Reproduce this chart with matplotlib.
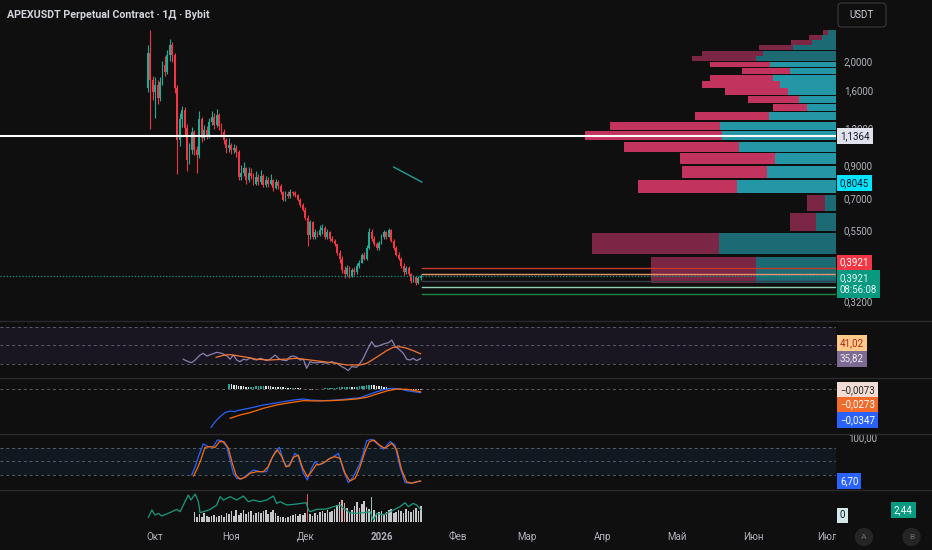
import numpy as np
import matplotlib
matplotlib.use("Agg")
import matplotlib.pyplot as plt
from matplotlib import transforms
from matplotlib.patches import Ellipse, FancyBboxPatch

plt.rcParams['font.family'] = ['Roboto', 'DejaVu Sans']

# ---- price data (daily candles, day 0 = 28 Sep 2025) ----
opens = [1.64, 2.14, 1.74, 1.59, 1.68, 1.52, 1.72, 1.96, 1.85, 2.11,
         2.28, 2.11, 1.64, 1.10, 1.29, 1.39, 1.21, 0.95, 1.02, 1.17,
         1.02, 0.98, 1.29, 1.12, 1.19, 1.14, 1.27, 1.31, 1.24, 1.33,
         1.23, 1.17, 1.10, 1.04, 1.06, 1.02, 1.04, 1.01, 0.83, 0.86,
         0.89, 0.81, 0.86, 0.84, 0.79, 0.83, 0.80, 0.84, 0.78, 0.81,
         0.79, 0.81, 0.765, 0.80, 0.776, 0.742, 0.699, 0.731, 0.720, 0.742,
         0.737, 0.726, 0.699, 0.673, 0.648, 0.609, 0.533, 0.590, 0.528, 0.545,
         0.533, 0.553, 0.562, 0.528, 0.545, 0.520, 0.512, 0.497, 0.467, 0.446,
         0.408, 0.396, 0.414, 0.392, 0.408, 0.402, 0.420, 0.433, 0.457, 0.446,
         0.482, 0.545, 0.520, 0.497, 0.482, 0.504, 0.528, 0.545, 0.528, 0.553,
         0.512, 0.482, 0.460, 0.446, 0.420, 0.402, 0.414, 0.396, 0.377, 0.389,
         0.371, 0.385]
closes = [2.14, 1.74, 1.59, 1.68, 1.52, 1.72, 1.96, 1.85, 2.11, 2.28,
          2.11, 1.64, 1.10, 1.29, 1.39, 1.21, 0.95, 1.02, 1.17, 1.02,
          0.98, 1.29, 1.12, 1.19, 1.14, 1.27, 1.31, 1.24, 1.33, 1.23,
          1.17, 1.10, 1.04, 1.06, 1.02, 1.04, 1.01, 0.83, 0.86, 0.89,
          0.81, 0.86, 0.84, 0.79, 0.83, 0.80, 0.84, 0.78, 0.81, 0.79,
          0.81, 0.765, 0.80, 0.776, 0.742, 0.699, 0.731, 0.720, 0.742, 0.737,
          0.726, 0.699, 0.673, 0.648, 0.609, 0.533, 0.590, 0.528, 0.545, 0.533,
          0.553, 0.562, 0.528, 0.545, 0.520, 0.512, 0.497, 0.467, 0.446, 0.408,
          0.396, 0.414, 0.392, 0.408, 0.402, 0.420, 0.433, 0.457, 0.446, 0.482,
          0.545, 0.520, 0.497, 0.482, 0.504, 0.528, 0.545, 0.528, 0.553, 0.512,
          0.482, 0.460, 0.446, 0.420, 0.402, 0.414, 0.396, 0.377, 0.389, 0.371,
          0.385, 0.3921]
highs = [2.28, 2.55, 1.80, 1.78, 1.74, 1.78, 2.02, 2.10, 2.20, 2.38,
         2.33, 2.14, 1.68, 1.36, 1.43, 1.42, 1.25, 1.08, 1.22, 1.19,
         1.05, 1.38, 1.31, 1.24, 1.23, 1.30, 1.38, 1.36, 1.40, 1.36,
         1.26, 1.20, 1.12, 1.12, 1.08, 1.07, 1.06, 1.02, 0.91, 0.93,
         0.90, 0.90, 0.89, 0.86, 0.87, 0.85, 0.88, 0.85, 0.84, 0.83,
         0.85, 0.82, 0.82, 0.81, 0.79, 0.75, 0.75, 0.75, 0.76, 0.75,
         0.745, 0.73, 0.71, 0.68, 0.66, 0.62, 0.60, 0.595, 0.56, 0.55,
         0.575, 0.58, 0.57, 0.56, 0.55, 0.53, 0.52, 0.50, 0.475, 0.455,
         0.42, 0.425, 0.42, 0.415, 0.418, 0.43, 0.44, 0.465, 0.47, 0.495,
         0.565, 0.56, 0.53, 0.505, 0.51, 0.54, 0.555, 0.55, 0.565, 0.56,
         0.52, 0.49, 0.47, 0.45, 0.43, 0.42, 0.42, 0.40, 0.395, 0.392,
         0.39, 0.398]
lows = [1.59, 1.20, 1.50, 1.30, 1.45, 1.48, 1.68, 1.80, 1.82, 2.02,
        2.00, 1.58, 0.85, 1.05, 1.22, 1.15, 0.87, 0.92, 0.99, 0.98,
        0.86, 0.96, 1.09, 1.10, 1.11, 1.12, 1.24, 1.20, 1.22, 1.19,
        1.14, 1.07, 1.00, 1.01, 0.99, 1.00, 0.97, 0.81, 0.81, 0.84,
        0.79, 0.80, 0.82, 0.78, 0.78, 0.78, 0.79, 0.77, 0.77, 0.77,
        0.78, 0.75, 0.76, 0.76, 0.73, 0.69, 0.69, 0.71, 0.71, 0.72,
        0.715, 0.69, 0.66, 0.64, 0.60, 0.49, 0.52, 0.52, 0.52, 0.525,
        0.53, 0.54, 0.52, 0.52, 0.51, 0.505, 0.49, 0.46, 0.43, 0.40,
        0.385, 0.39, 0.384, 0.388, 0.395, 0.398, 0.415, 0.43, 0.44, 0.44,
        0.48, 0.51, 0.49, 0.475, 0.478, 0.50, 0.52, 0.52, 0.525, 0.505,
        0.475, 0.455, 0.44, 0.415, 0.395, 0.398, 0.39, 0.37, 0.372, 0.365,
        0.368, 0.38]

# volume profile rows, top to bottom
vp_up = [8, 14, 24, 43, 72, 79, 66, 46, 63, 56, 48, 37, 29, 67, 115, 113,
         96, 61, 69, 98, 11, 20, 116, 79]
vp_down = [5, 13, 21, 33, 61, 64, 59, 47, 62, 77, 62, 50, 34, 73, 109, 136,
           114, 94, 84, 99, 18, 26, 126, 105]
value_area = (0.72, 1.99)

hline_price = 1.1364
last_price = 0.3921
alert_price = 0.8045
levels = [0.414, 0.3955, 0.3758, 0.360, 0.3396]
level_colors = ['#c23b2b', '#e8946a', '#3a3d48', '#8fd1b0', '#1f8a3f']
trend_x = [100.0, 111.4]
trend_y = [0.897, 0.800]

# RSI
rsi_day = [14.5, 16.5, 17.9, 19.3, 21.3, 22.6, 24.0, 26.0, 28.1, 30.1, 32.1, 33.5,
           34.8, 36.2, 37.5, 38.9, 40.3, 41.6, 42.9, 44.3, 45.7, 47.0, 48.4, 49.7,
           51.8, 53.1, 54.5, 56.5, 57.9, 59.2, 60.6, 61.9, 63.3, 64.6, 66.0, 67.3,
           68.7, 70.7, 72.8, 74.8, 76.8, 78.9, 80.2, 81.5, 82.9, 84.9, 86.3, 87.6,
           89.2, 91.0, 92.4, 93.7, 95.8, 97.8, 99.2, 100.5, 102.5, 103.9, 105.3,
           106.6, 107.9, 109.3, 110.9]
rsi_val = [35.1, 32.5, 31.4, 34.3, 39.7, 41.5, 38.6, 40.5, 42.6, 41.5, 39.0, 35.1,
           39.7, 34.3, 32.5, 35.1, 34.3, 36.8, 35.1, 34.3, 36.1, 35.1, 33.6, 35.1,
           39.7, 36.1, 34.3, 33.6, 37.9, 38.6, 37.2, 34.3, 35.1, 25.3, 32.5, 31.4,
           31.4, 31.8, 30.7, 32.5, 30.7, 27.1, 25.3, 22.8, 27.1, 26.4, 30.7, 36.1,
           45.1, 54.1, 48.7, 49.4, 51.6, 53.0, 55.9, 49.4, 45.1, 41.5, 35.1,
           34.3, 36.1, 33.6, 35.82]
rsi_ma_day = [27.8, 30.8, 33.5, 36.2, 40.3, 44.3, 49.7, 55.1, 60.6, 66.0, 71.4,
              76.8, 80.9, 86.3, 89.0, 91.7, 94.4, 97.1, 99.8, 102.5, 105.3, 107.9, 110.9]
rsi_ma_val = [37.2, 39.4, 40.1, 39.0, 37.2, 35.1, 34.3, 35.1, 36.1, 34.3, 32.5,
              30.7, 28.9, 28.9, 30.7, 35.1, 39.7, 44.4, 48.0, 48.7, 47.0, 44.4, 41.02]

# MACD
macd_day = [25.8, 27.4, 29.4, 31.4, 33.5, 35.5, 36.2, 38.9, 42.9, 47.0, 51.1, 55.1,
            59.2, 63.3, 66.0, 71.4, 76.8, 82.2, 86.3, 90.4, 94.4, 97.1, 99.8, 102.5,
            105.3, 107.9, 110.9]
macd_val = [-0.365, -0.311, -0.264, -0.225, -0.210, -0.216, -0.206, -0.194, -0.175,
            -0.152, -0.137, -0.121, -0.105, -0.095, -0.105, -0.111, -0.105, -0.092,
            -0.083, -0.048, -0.016, 0.0, 0.006, 0.0, -0.016, -0.025, -0.0347]
signal_day = [33.5, 37.5, 41.6, 47.0, 52.4, 57.9, 63.3, 68.7, 74.1, 79.5, 84.9, 89.0,
              93.1, 97.1, 101.2, 105.3, 107.9, 110.9]
signal_val = [-0.279, -0.248, -0.225, -0.184, -0.152, -0.130, -0.111, -0.114, -0.111,
              -0.105, -0.095, -0.079, -0.048, -0.019, 0.0, -0.003, -0.012, -0.0273]
hist_start = 33
hist_val = [0.05, 0.045, 0.04, 0.035, 0.03, 0.028,
            0.025, 0.022, 0.02, 0.02, 0.022, 0.025, 0.028, 0.03, 0.03, 0.028, 0.026, 0.024,
            0.022, 0.02, 0.018, 0.016, 0.015, 0.014, 0.013, 0.012, 0.012, 0.01, 0.008, 0.006, 0.004,
            0.0, -0.004, -0.006, -0.005, -0.003, 0.0, 0.002,
            0.004, 0.006, 0.008, 0.01, 0.012, 0.012, 0.014, 0.015, 0.016, 0.018, 0.02, 0.022, 0.02, 0.018,
            0.02, 0.024, 0.028, 0.032, 0.036, 0.04, 0.038, 0.035, 0.032, 0.028, 0.024, 0.02, 0.016, 0.012, 0.008,
            0.004, 0.0, -0.003, -0.006, -0.008, -0.01, -0.011, -0.012, -0.01, -0.009, -0.008, -0.0073]

# Stochastic
k_day = [17.9, 19.3, 20.6, 22.6, 24.7, 26.7, 28.3, 30.1, 32.1, 33.5, 34.8, 36.2, 38.2,
         40.3, 42.9, 45.7, 48.4, 49.7, 51.8, 53.5, 55.1, 56.5, 57.9, 59.9, 61.2, 63.3,
         64.9, 66.6, 68.0, 69.4, 71.4, 73.4, 75.5, 77.5, 79.5, 81.5, 83.6, 86.3, 87.6,
         89.0, 91.0, 93.1, 95.8, 98.5, 100.5, 102.5, 104.6, 106.6, 109.3, 110.9]
k_val = [20, 38.2, 60.2, 88.1, 82.2, 82.2, 96.9, 95.4, 82.2, 53, 23.7, 12.7, 11.2,
         20, 31, 27.3, 27.3, 49.2, 71.2, 80.8, 53, 38.2, 45.7, 67.7, 60.2, 23.7,
         9.0, 34.7, 49.2, 42, 45.7, 54.5, 60.2, 67.7, 31, 3.1, 16.3, 45.7, 67.7,
         95.4, 98.4, 89.6, 76.5, 93.2, 86, 38.2, 3.1, 1.8, 5.3, 6.7]
d_day = [18.6, 19.9, 21.6, 23.3, 25.4, 27.4, 29.2, 31.0, 32.8, 34.4, 35.9, 37.5, 39.6,
         41.6, 44.3, 47.0, 49.0, 50.8, 52.7, 54.5, 56.2, 57.6, 59.2, 61.2, 63.0, 64.9,
         66.6, 68.4, 70.0, 72.1, 74.1, 76.1, 78.2, 80.2, 82.2, 84.3, 86.3, 88.3, 90.1,
         92.0, 94.1, 96.4, 99.2, 101.2, 103.2, 105.2, 107.3, 109.3, 110.9]
d_val = [17.8, 31, 53, 80.8, 82.2, 80.8, 93.2, 93.2, 78.7, 45.7, 20, 11.2, 14.8,
         23.7, 27.3, 27.3, 38.2, 60.2, 75, 60.2, 38.2, 39.6, 58.7, 63.9, 34.7, 16.3,
         27.3, 42, 43.4, 49.2, 56.6, 60.2, 56.6, 23.7, 6.8, 12.7, 38.2, 71.2, 93.2,
         96.9, 86, 78.7, 89.6, 75, 31, 5.3, 1.8, 4.6, 6.8]

# volume + oscillator line (bottom pane)
vol_start = 19
vol = [10, 5,
       8, 5, 9, 6, 5, 6, 7, 5, 6, 7, 5, 9, 8,
       11, 6, 12, 7, 9, 12, 8, 10, 11, 7, 9, 10,
       9, 11, 12, 8, 10, 12, 9, 6, 5, 5, 4, 5, 6, 7, 8,
       6, 8, 7, 9,
       28,
       8, 6, 9, 7, 10, 11, 9, 12, 10, 11, 13, 17, 20,
       22, 19, 14,
       10, 12, 16, 20, 14, 18, 21, 15, 13,
       25,
       12, 9, 10, 11, 8, 10, 12, 13, 9,
       10, 12, 11, 9, 13, 11, 10, 12, 14, 11, 16]
osc_day = [0.3, 1.7, 3.0, 4.4, 5.7, 7.7, 9.8, 11.8, 13.2, 14.5, 16.5, 17.6, 19.3, 20.6,
           21.3, 22.6, 25.4, 28.1, 29.4, 30.8, 33.5, 36.2, 38.9, 40.9, 42.9, 45.7, 48.4,
           51.1, 52.4, 53.8, 56.5, 60.6, 64.4, 65.3, 66.0, 68.7, 72.8, 75.5, 78.2, 79.5,
           82.2, 84.9, 87.6, 90.4, 91.7, 93.1, 95.8, 98.5, 101.2, 102.5, 104.6, 105.9,
           107.9, 109.3, 110.9]
osc_val = [4.3, 11.7, 6.7, 8.3, 5.7, 7.7, 10, 12.3, 10, 16.7, 26.7, 21.7, 27.7, 20,
           9, 10, 12.3, 16.7, 25, 21.7, 25, 21.7, 25.7, 20, 21.7, 20, 21.7,
           25.7, 18.3, 20, 16.7, 17.7, 19, 11.7, 10, 12.3, 12.7, 15, 16.7, 13.3,
           9, 8.3, 9, 10, 1.7, 8.3, 6.7, 10, 13.3, 15, 19, 15,
           18.3, 16.7, 12.3]

month_day = [3, 34, 64, 95, 126, 154, 185, 215, 246, 276]
month_lbl = ['Окт', 'Ноя', 'Дек', '2026', 'Фев', 'Мар', 'Апр', 'Май', 'Июн', 'Июл']
price_ticks = [2.0, 1.6, 1.2, 0.9, 0.7, 0.55, 0.32]

# ---- style ----
W, H = 932, 550
BG = '#0f0f0f'
UP, DN = '#22ab94', '#f23645'
TXT = '#b2b5be'
XMIN, XMAX = -60, 279.7

fig = plt.figure(figsize=(W / 100, H / 100), dpi=100, facecolor=BG)


def pane(x0, y0, x1, y1):
    a = fig.add_axes([x0 / W, 1 - y1 / H, (x1 - x0) / W, (y1 - y0) / H])
    a.set_facecolor('none')
    for s in a.spines.values():
        s.set_visible(False)
    a.tick_params(left=False, bottom=False, right=False, top=False,
                  labelleft=False, labelbottom=False)
    a.set_xlim(XMIN, XMAX)
    return a


def tag(a, y, s, fc, tc, dy=0, x=840, fs=7):
    tr = transforms.blended_transform_factory(fig.transFigure, a.transData)
    a.annotate(s, xy=(x / W, y), xycoords=tr, xytext=(0, -dy * 0.72),
               textcoords='offset points', ha='left', va='center', fontsize=fs,
               color=tc, annotation_clip=False, zorder=30,
               bbox=dict(boxstyle='square,pad=0.3', fc=fc, ec='none'))


def axlabel(a, y, s, x=844, color=TXT):
    tr = transforms.blended_transform_factory(fig.transFigure, a.transData)
    a.text(x / W, y, s, transform=tr, ha='left', va='center', fontsize=7,
           color=color, clip_on=False, zorder=5)


# ---- main price pane ----
ax = pane(0, 0, 836, 320)
ax.set_yscale('log')
ax.set_ylim(0.2792, 3.21)
ax.yaxis.set_minor_locator(matplotlib.ticker.NullLocator())

o, c, hi, lo = map(np.array, (opens, closes, highs, lows))
days = np.arange(len(c))
cols = np.where(c >= o, UP, DN)
ax.vlines(days, lo, hi, colors=cols, linewidth=0.8, zorder=3)
ax.bar(days, np.abs(c - o), bottom=np.minimum(o, c), width=0.75, color=cols,
       linewidth=0, zorder=4)
ax.plot(trend_x, trend_y, color='#1f9e9e', lw=1.0, zorder=4)

for p in price_ticks:
    axlabel(ax, p, f'{p:.4f}'.replace('.', ','))

# volume profile on a twin x axis (volume grows to the left)
axv = ax.twiny()
axv.set_facecolor('none')
for s in axv.spines.values():
    s.set_visible(False)
axv.tick_params(top=False, labeltop=False)
edges = np.linspace(lo.min(), hi.max(), len(vp_up) + 1)
up = np.array(vp_up[::-1], float)
dn = np.array(vp_down[::-1], float)
tot = up + dn
axv.set_xlim(tot.max() / 0.30, 0)
step = edges[1] - edges[0]
mid = (edges[:-1] + edges[1:]) / 2
inside = (mid >= value_area[0]) & (mid <= value_area[1])
up_c = np.where(inside, '#2497a6', '#1c6b74')
dn_c = np.where(inside, '#c2335e', '#7a2644')
gap = step * 0.06
axv.barh(edges[:-1] + gap, up, height=step - 2 * gap, left=0, align='edge',
         color=up_c, linewidth=0, zorder=2)
axv.barh(edges[:-1] + gap, dn, height=step - 2 * gap, left=up, align='edge',
         color=dn_c, linewidth=0, zorder=2)

# horizontal lines drawn over the profile
axv.axhline(hline_price, color='white', lw=1.5, zorder=5)
axv.axhline(last_price, color='#089981', lw=0.9, ls=(0, (1, 1.5)), zorder=5)
for lv, lc in zip(levels, level_colors):
    axv.axhline(lv, xmin=422 / 836, xmax=1, color=lc, lw=1.0, zorder=5)

tag(ax, hline_price, '1,1364', '#e0e3eb', '#131722')
tag(ax, alert_price, '0,8045', '#00e5ff', '#131722', dy=2)
tag(ax, last_price, '0,3921', '#f23645', 'white', dy=-13)
tag(ax, last_price, '0,3921\n08:56:08', '#089981', '#e8f5f2', dy=8.5)

# ---- RSI pane ----
ar = pane(0, 321, 836, 377)
ar.set_ylim(15.9, 76.5)
ar.axhspan(30, 70, color='#7e57c2', alpha=0.1, lw=0)
for lv in (70, 50, 30):
    ar.axhline(lv, color='#787b86', lw=0.7, ls=(0, (3, 3)), alpha=0.7)
ar.plot(rsi_day, rsi_val, color='#8a7fb0', lw=0.9)
ar.plot(rsi_ma_day, rsi_ma_val, color='#f5772f', lw=0.9)
tag(ar, rsi_ma_val[-1], '41,02', '#ffc98a', '#b0261a', dy=-11)
tag(ar, rsi_val[-1], '35,82', '#7e6b93', '#f0eef5')

# ---- MACD pane ----
am = pane(0, 378, 836, 433)
am.set_ylim(-0.419, 0.1048)
am.axhline(0, color='#787b86', lw=0.7, ls=(0, (3, 3)), alpha=0.7)
hv = np.array(hist_val)
hd = np.arange(hist_start, hist_start + len(hv))
prev = np.r_[hv[0], hv[:-1]]
hcol = np.where(hv >= 0, np.where(hv >= prev, '#26a69a', '#d8e6e4'),
                np.where(hv <= prev, '#ff5252', '#ffcdd2'))
am.bar(hd, hv, width=0.6, color=hcol, linewidth=0)
am.plot(macd_day, macd_val, color='#2962ff', lw=0.9)
am.plot(signal_day, signal_val, color='#ff6d00', lw=0.9)
tag(am, -0.0073, '\u22120,0073', '#f3dcd4', '#2a2a2a')
tag(am, signal_val[-1], '\u22120,0273', '#f26b2a', 'white', dy=12.6)
tag(am, macd_val[-1], '\u22120,0347', '#2962ff', 'white', dy=27.4)

# ---- Stochastic pane ----
ast = pane(0, 434, 836, 489)
ast.set_ylim(-10.8, 110.1)
ast.axhspan(20, 80, color='#2196f3', alpha=0.08, lw=0)
for lv in (80, 50, 20):
    ast.axhline(lv, color='#787b86', lw=0.7, ls=(0, (3, 3)), alpha=0.7)
ast.plot(k_day, k_val, color='#2962ff', lw=0.9)
ast.plot(d_day, d_val, color='#ff6d00', lw=0.9)
axlabel(ast, 100, '100,00', x=848)
tag(ast, k_val[-1], '6,70', '#2962ff', 'white')

# ---- volume pane ----
ab = pane(0, 490, 836, 523)
ab.set_ylim(-1.3, 31.7)
vd = np.arange(vol_start, vol_start + len(vol))
vol_hl = {65: '#f05a6e', 79: '#f4b6b0', 80: '#f4b6b0', 86: '#f4b6b0', 91: '#9fd8b8'}
vcol = [vol_hl.get(d, '#d6d8dc') for d in vd]
ab.bar(vd, vol, width=0.65, color=vcol, linewidth=0, alpha=0.92)
ab.plot(osc_day, osc_val, color='#1b9a80', lw=0.9)
fig.text(840 / W, 1 - 515.5 / H, '0', fontsize=7, color='#131722', va='center',
         bbox=dict(boxstyle='square,pad=0.3', fc='#d4e8ea', ec='none'))
fig.text(894 / W, 1 - 510 / H, '2,44', fontsize=7, color='white', va='center',
         bbox=dict(boxstyle='square,pad=0.3', fc='#089981', ec='none'))

# ---- pane separators ----
for yy in (320.5, 377.5, 433.5, 489.5):
    fig.add_artist(plt.Line2D([0, 1], [1 - yy / H] * 2, color='#2a2a2a', lw=1.0))

# ---- date axis ----
ad = pane(0, 523, 836, 550)
ad.set_ylim(0, 1)
for d, s in zip(month_day, month_lbl):
    ad.text(d, 0.5, s, ha='center', va='center', fontsize=7, color=TXT,
            fontweight='bold' if s == '2026' else 'normal', clip_on=True)

for cx, s in ((864, 'A'), (911.5, 'B')):
    fig.add_artist(Ellipse((cx / W, 1 - 537 / H), 17 / W, 17 / H,
                           transform=fig.transFigure, color='#252525'))
    fig.text(cx / W, 1 - 537 / H, s, ha='center', va='center', fontsize=6,
             color='#6a6d78')

# ---- header ----
fig.text(7 / W, 1 - 15 / H, 'APEXUSDT Perpetual Contract · 1Д · Bybit', fontsize=7.7,
         color='#d1d4dc', va='center', fontweight='bold')
fig.add_artist(FancyBboxPatch((838 / 100, (H - 27) / 100), 0.48, 0.24,
                              boxstyle='round,pad=0,rounding_size=0.04',
                              transform=fig.dpi_scale_trans, fc=BG, ec='#3a3a3a', lw=0.8))
fig.text(862 / W, 1 - 15 / H, 'USDT', ha='center', va='center', fontsize=7,
         color='#d1d4dc')

fig.savefig('out.png', dpi=100, facecolor=BG)
